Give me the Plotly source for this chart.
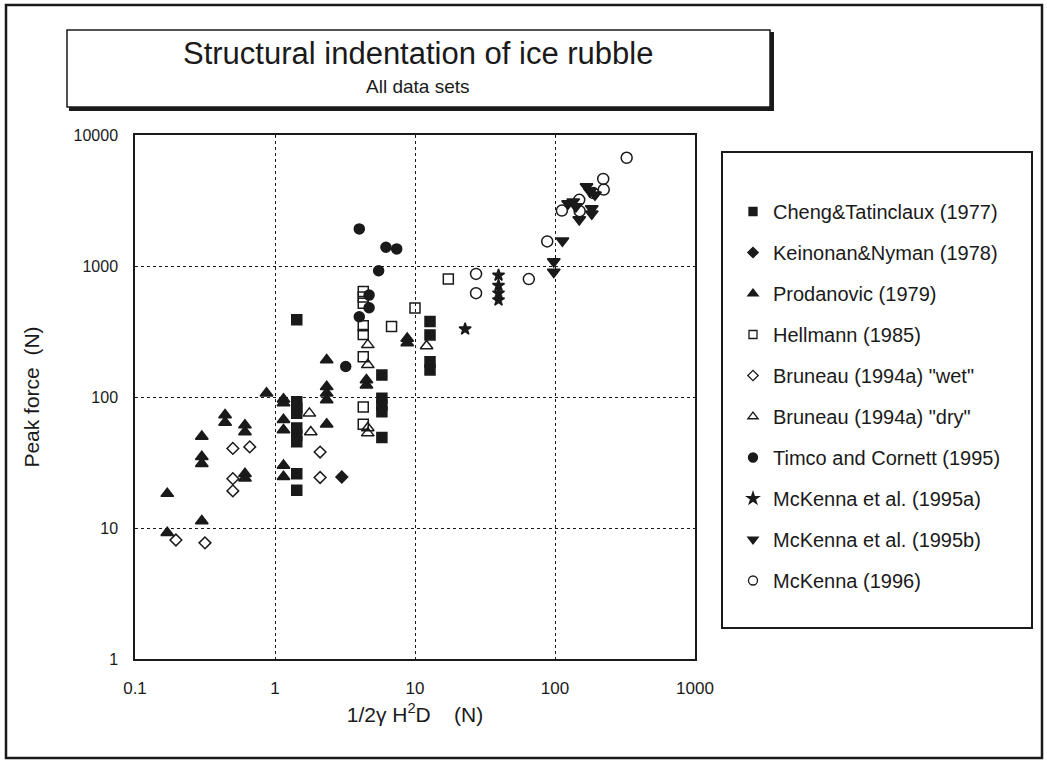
import plotly.graph_objects as go

# ---- data ----
cheng_x = [1.43]*9 + [5.8]*5 + [12.8]*4
cheng_y = [388, 92, 82, 75, 58, 51, 45.5, 26, 19.4,
           147, 98, 87, 77, 49,
           377, 298, 186, 161]

keinonan_x = [3.0]
keinonan_y = [24.5]

prod_x = [0.87, 0.44, 0.44, 0.61, 0.61, 0.30, 0.30, 0.30, 0.61, 0.61, 0.17, 0.30, 0.17,
          1.15, 1.15, 1.15, 1.15, 1.15, 1.15,
          2.34, 2.34, 2.34, 2.34, 2.34,
          4.5, 4.5, 8.8, 8.8]
prod_y = [107, 73, 64, 61, 54, 50, 35, 31, 26, 24, 18.3, 11.3, 9.2,
          96, 90, 67, 56, 30, 24.6,
          192, 120, 107, 95, 62,
          135, 123, 280, 258]

hell_x = [4.27]*8 + [6.8, 10.0, 17.3]
hell_y = [640, 580, 520, 350, 300, 203, 84, 62, 345, 477, 794]

wet_x = [0.5, 0.66, 0.5, 0.5, 0.196, 0.316, 2.1, 2.1]
wet_y = [40.5, 41.6, 23.8, 19.2, 8.1, 7.7, 38, 24.3]

dry_x = [1.76, 1.8, 4.6, 4.6, 4.6, 4.6, 12.1]
dry_y = [75, 54, 250, 176, 58, 53, 245]

timco_x = [4.0, 6.2, 7.4, 5.5, 4.7, 4.7, 4.0, 3.2]
timco_y = [1920, 1390, 1350, 920, 600, 480, 410, 171]

mk95a_x = [39.5, 39.5, 39.5, 39.5, 22.8]
mk95a_y = [850, 710, 620, 550, 330]

mk95b_x = [98, 98, 113, 124, 135, 141, 149, 168, 178, 193, 183, 183]
mk95b_y = [1080, 900, 1560, 3000, 3100, 2850, 2260, 4050, 3700, 3500, 2500, 2750]

mk96_x = [27.3, 27.3, 65, 88, 112, 149, 150, 188, 221, 223, 325]
mk96_y = [870, 620, 795, 1540, 2650, 3200, 2620, 3600, 4620, 3830, 6700]

series_names = ["Cheng&Tatinclaux (1977)", "Keinonan&Nyman (1978)", "Prodanovic (1979)",
                "Hellmann (1985)", 'Bruneau (1994a) "wet"', 'Bruneau (1994a) "dry"',
                "Timco and Cornett (1995)", "McKenna et al. (1995a)",
                "McKenna et al. (1995b)", "McKenna (1996)"]

x_tickvals = [0.1, 1, 10, 100, 1000]
x_ticktext = ["0.1", "1", "10", "100", "1000"]
y_tickvals = [1, 10, 100, 1000, 10000]
y_ticktext = ["1", "10", "100", "1000", "10000"]

# ---- styling ----
INK = "#1a1a1a"
series = [
    (cheng_x, cheng_y, "square", 10, 8),
    (keinonan_x, keinonan_y, "diamond", 9, 8),
    (prod_x, prod_y, "triangle-up", 11, 9),
    (hell_x, hell_y, "square-open", 10, 8),
    (wet_x, wet_y, "diamond-open", 9, 8),
    (dry_x, dry_y, "triangle-up-open", 11, 9),
    (timco_x, timco_y, "circle", 10, 9),
    (mk95a_x, mk95a_y, "star", 9, 9),
    (mk95b_x, mk95b_y, "triangle-down", 11, 9),
    (mk96_x, mk96_y, "circle-open", 11, 9),
]

fig = go.Figure()
for i, (xs, ys, sym, sz, lsz) in enumerate(series):
    fig.add_trace(go.Scatter(
        x=xs, y=ys, mode="markers", name=series_names[i], legendgroup=f"g{i}",
        showlegend=False,
        marker=dict(symbol=sym, size=sz, color=INK, line=dict(color=INK, width=1.5)),
    ))
    # legend entry with the smaller legend symbol
    fig.add_trace(go.Scatter(
        x=[None], y=[None], mode="markers", name=series_names[i], legendgroup=f"g{i}",
        showlegend=True,
        marker=dict(symbol=sym, size=lsz, color=INK, line=dict(color=INK, width=1.3)),
    ))

W, H = 1047, 765
L, R, T, B = 135, 695, 135, 659
def px(xp):
    return (xp - L) / (R - L)
def py(yp):
    return (B - yp) / (B - T)

FONT = "Liberation Sans, Arial, sans-serif"

shapes = [
    # outer frame
    dict(type="rect", xref="paper", yref="paper", x0=px(6), x1=px(1042), y0=py(758), y1=py(5),
         line=dict(color=INK, width=2.5)),
    # title box shadow
    dict(type="rect", xref="paper", yref="paper", x0=px(70), x1=px(773), y0=py(110), y1=py(33),
         line=dict(color=INK, width=2), fillcolor=INK, layer="below"),
    # title box
    dict(type="rect", xref="paper", yref="paper", x0=px(67), x1=px(770), y0=py(107), y1=py(30),
         line=dict(color=INK, width=1.5), fillcolor="white", layer="below"),
    # legend box
    dict(type="rect", xref="paper", yref="paper", x0=px(722), x1=px(1032), y0=py(628), y1=py(152),
         line=dict(color=INK, width=2)),
]

annotations = [
    dict(text="Structural indentation of ice rubble", xref="paper", yref="paper",
         x=px(418), y=py(53), showarrow=False, xanchor="center", yanchor="middle",
         font=dict(family=FONT, size=31, color=INK)),
    dict(text="All data sets", xref="paper", yref="paper",
         x=px(418), y=py(86), showarrow=False, xanchor="center", yanchor="middle",
         font=dict(family=FONT, size=19, color=INK)),
]

fig.update_layout(
    width=W, height=H,
    margin=dict(l=L, r=W - R, t=T, b=H - B),
    paper_bgcolor="white", plot_bgcolor="white",
    font=dict(family=FONT, color=INK),
    shapes=shapes, annotations=annotations,
    showlegend=True,
    legend=dict(x=px(733), y=py(192), xanchor="left", yanchor="top",
                font=dict(family=FONT, size=20, color=INK),
                tracegroupgap=12, itemsizing="trace",
                bgcolor="rgba(0,0,0,0)", borderwidth=0),
    xaxis=dict(type="log", range=[-1, 3], tickvals=x_tickvals, ticktext=x_ticktext,
               showgrid=True, gridcolor=INK, griddash="dot", gridwidth=1,
               showline=True, linecolor=INK, linewidth=1.5, mirror=True,
               ticks="", zeroline=False, ticklabelstandoff=13,
               tickfont=dict(size=17, color=INK),
               title=dict(text="1/2\u03b3 H<sup>2</sup>D\u00a0\u00a0\u00a0\u00a0(N)", font=dict(size=21, color=INK),
                          standoff=10)),
    yaxis=dict(type="log", range=[0, 4], tickvals=y_tickvals, ticktext=y_ticktext,
               showgrid=True, gridcolor=INK, griddash="dot", gridwidth=1,
               showline=True, linecolor=INK, linewidth=1.5, mirror=True,
               ticks="", zeroline=False, ticklabelstandoff=12,
               tickfont=dict(size=16, color=INK),
               title=dict(text="Peak force\u00a0\u00a0(N)", font=dict(size=21, color=INK), standoff=28)),
)

fig.write_html("out.html")
